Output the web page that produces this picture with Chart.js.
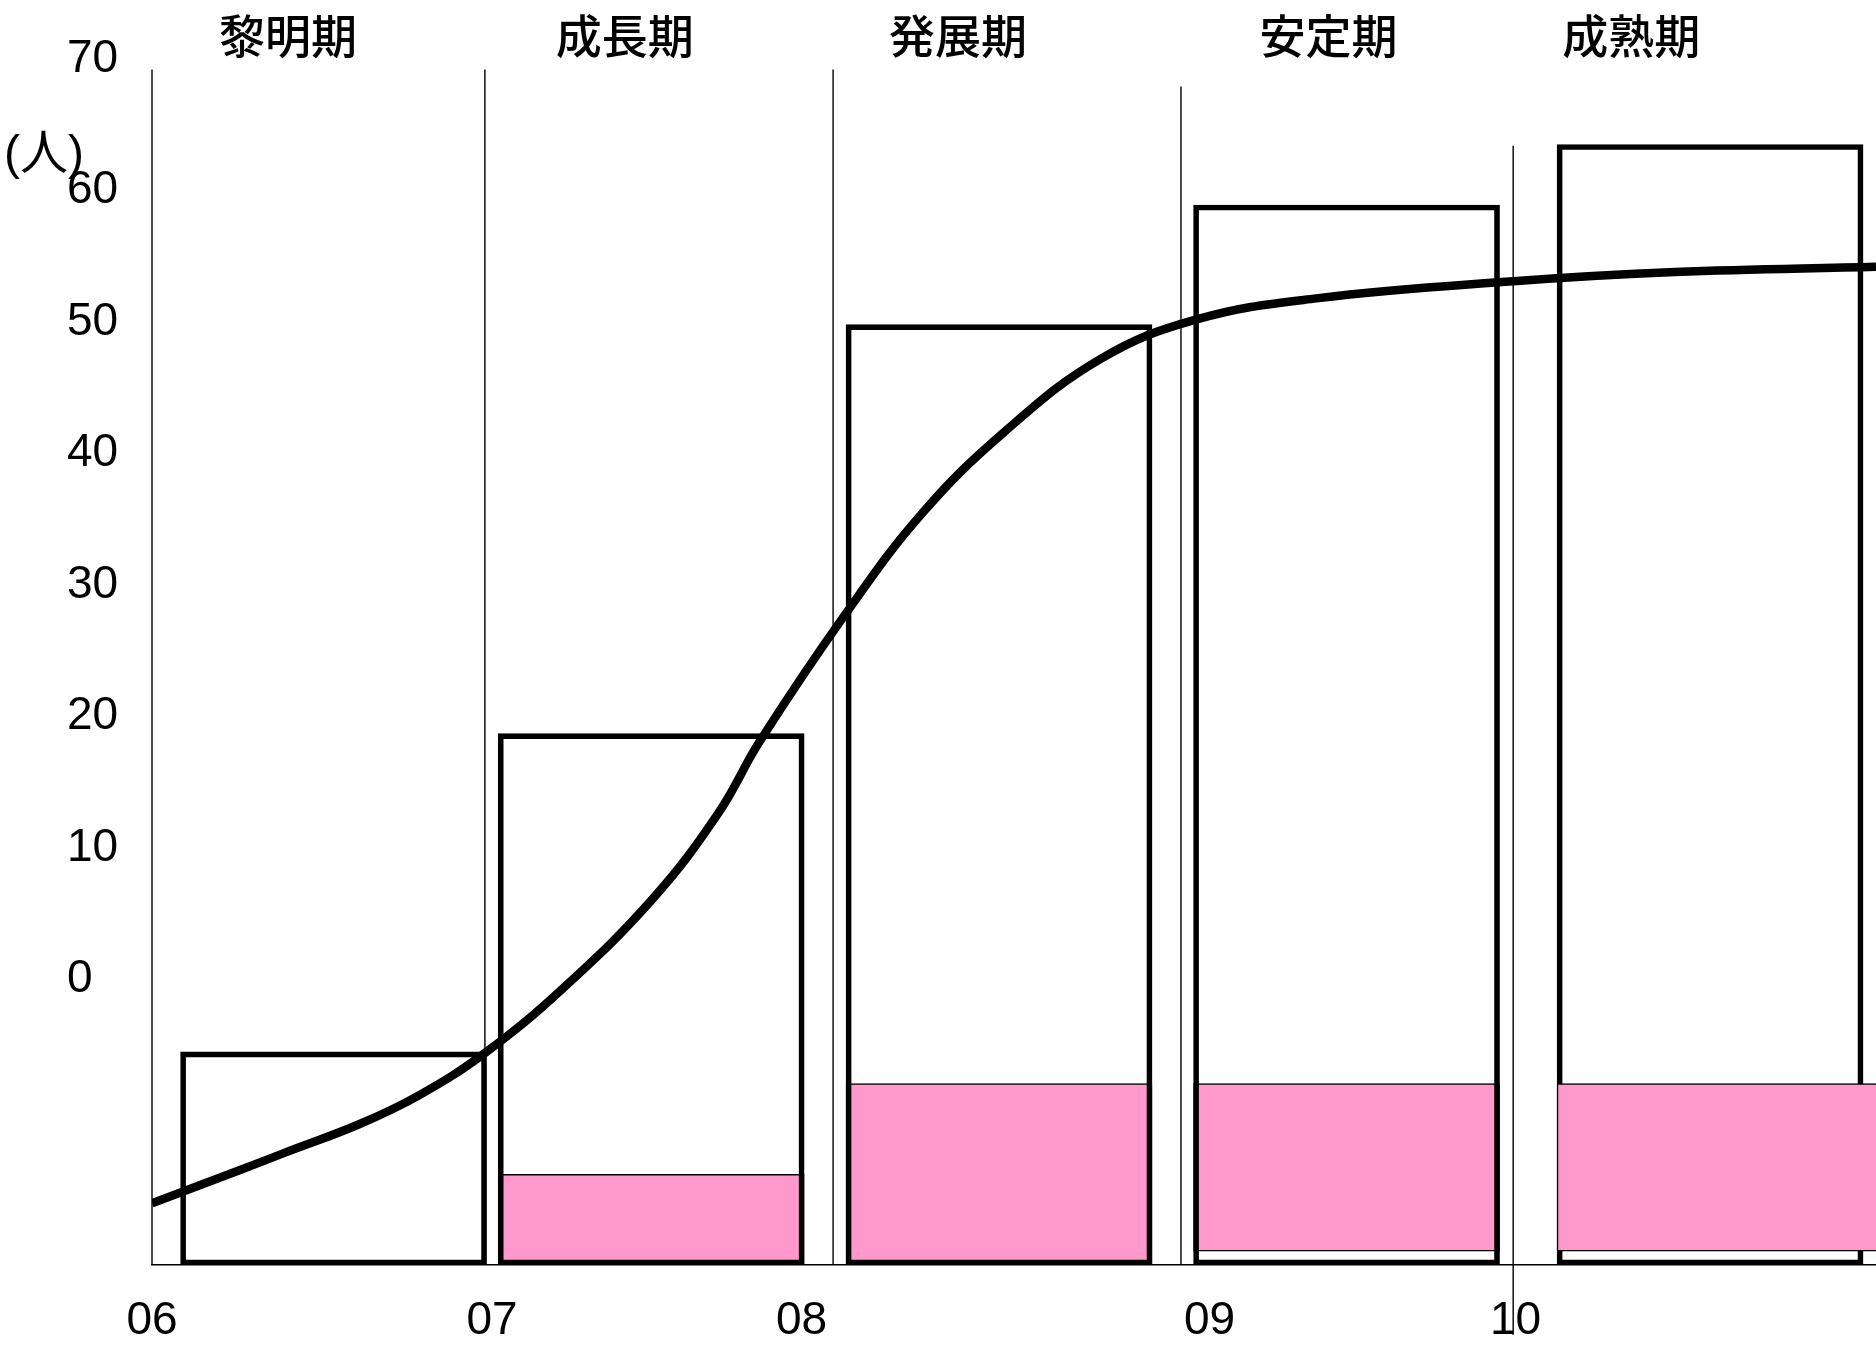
<!DOCTYPE html>
<html>
<head>
<meta charset="utf-8">
<script src="https://cdn.jsdelivr.net/npm/chart.js@4/dist/chart.umd.min.js"></script>
<style>
html,body{margin:0;padding:0;background:#fff;}
#wrap{width:1876px;height:1352px;}
</style>
</head>
<body>
<div id="wrap"><canvas id="c" width="1876" height="1352"></canvas></div>
<script>
// ---- data ----
const phases = ['黎明期', '成長期', '発展期', '安定期', '成熟期'];
const phasePos = [6.40, 7.39, 8.37, 9.46, 10.35];
const yearLabels = ['06', '07', '08', '09', '10'];
const yearPos = [6.0, 7.0, 7.91, 9.11, 10.01];
const yTicks = [0, 10, 20, 30, 40, 50, 60, 70];
const yUnit = '(人)';
const yMin = -21.7, yMax = 70, xMin = 6, xMax = 11.07;

const barX = [6.534, 7.468, 8.491, 9.513, 10.582];
const totalTop = [-5.5, 18.7, 49.8, 58.9, 63.5];
const pinkX = [null, 7.468, 8.491, 9.513, 10.632];
const pinkTop = [null, -14.8, -7.9, -7.9, -7.9];
const pinkBottom = [null, -21.7, -21.7, -20.65, -20.65];

const curveX = [6.0, 6.257, 6.397, 6.609, 6.785, 6.978, 7.207, 7.471, 7.664, 7.787, 8.034, 8.263, 8.509, 8.79, 9.072, 9.424, 10.004, 10.479, 11.07];
const curveY = [-17.0, -14.5, -13.1, -11.0, -8.8, -5.6, -0.7, 6.1, 12.6, 18.1, 27.6, 35.4, 41.7, 47.2, 50.2, 51.8, 53.1, 53.8, 54.2];

const sepX = [6.0, 6.979, 8.003, 9.026, 10.003];
const sepTop = [69.2, 69.2, 69.2, 67.9, 63.4];
const sepBottom = [-21.7, -21.7, -21.7, -21.7, -27.0];

// ---- build ----
const sepData = [];
sepX.forEach((x, i) => {
  sepData.push({x: x, y: sepTop[i]});
  sepData.push({x: x, y: sepBottom[i]});
  sepData.push({x: x, y: null});
});
const pinkMain = [1, 2, 3].map(i => ({x: pinkX[i], y: [pinkBottom[i], pinkTop[i]]}));
const pinkTail = [4].map(i => ({x: pinkX[i], y: [pinkBottom[i], pinkTop[i]]}));

const numFont = {family: '"Liberation Sans", Arial, sans-serif', size: 46};
const cjkFont = {family: '"Noto Sans CJK JP", sans-serif', size: 46, weight: '500'};

const unitLabel = {
  id: 'unitLabel',
  afterDraw(chart) {
    const c = chart.ctx;
    c.save();
    c.font = '48px "Liberation Sans", "Noto Sans CJK JP", sans-serif';
    c.fillStyle = '#000';
    c.textAlign = 'left';
    c.textBaseline = 'middle';
    c.fillText(yUnit, 4, 156);
    c.restore();
  }
};

new Chart(document.getElementById('c'), {
  type: 'bar',
  data: {
    datasets: [
      {type: 'line', label: 'curve', data: curveX.map((x, i) => ({x: x, y: curveY[i]})),
        borderColor: '#000', borderWidth: 8.5, pointRadius: 0, fill: false,
        tension: 0.4, borderCapStyle: 'butt', borderJoinStyle: 'round', order: 0},
      {type: 'bar', label: 'pinkTail', data: pinkTail, backgroundColor: '#FF99CC',
        borderColor: '#000', borderWidth: 1.5, borderSkipped: false, barThickness: 340,
        grouped: false, order: 1},
      {type: 'bar', label: 'total', data: barX.map((x, i) => ({x: x, y: [yMin, totalTop[i]]})),
        backgroundColor: 'rgba(0,0,0,0)', borderColor: '#000', borderWidth: 5,
        borderSkipped: false, barThickness: 306, grouped: false, order: 2},
      {type: 'bar', label: 'pink', data: pinkMain, backgroundColor: '#FF99CC',
        borderColor: '#000', borderWidth: 1.5, borderSkipped: false, barThickness: 306,
        grouped: false, order: 3},
      {type: 'line', label: 'sep', data: sepData, borderColor: '#000', borderWidth: 1.4,
        pointRadius: 0, spanGaps: false, clip: false, order: 4}
    ]
  },
  options: {
    responsive: false,
    animation: false,
    layout: {padding: {left: 67, right: 0, top: 0, bottom: 0}},
    plugins: {legend: {display: false}, tooltip: {enabled: false}},
    scales: {
      x: {
        type: 'linear', position: 'bottom', min: xMin, max: xMax, offset: false,
        afterBuildTicks: ax => { ax.ticks = yearPos.map(v => ({value: v})); },
        afterFit: ax => { ax.height = 87; },
        ticks: {autoSkip: false, maxRotation: 0, padding: 29, color: '#000', font: numFont,
          callback: (v, i) => yearLabels[i]},
        grid: {display: false, drawTicks: false},
        border: {display: true, color: '#000', width: 1.5}
      },
      x2: {
        type: 'linear', position: 'top', min: xMin, max: xMax, offset: false,
        afterBuildTicks: ax => { ax.ticks = phasePos.map(v => ({value: v})); },
        afterFit: ax => { ax.height = 59; },
        ticks: {autoSkip: false, maxRotation: 0, padding: -4, color: '#000', font: cjkFont,
          callback: (v, i) => phases[i]},
        grid: {display: false, drawTicks: false},
        border: {display: false}
      },
      y: {
        type: 'linear', position: 'left', min: yMin, max: yMax,
        afterBuildTicks: ax => { ax.ticks = yTicks.map(v => ({value: v})); },
        afterFit: ax => { ax.width = 85; },
        ticks: {autoSkip: false, crossAlign: 'far', padding: 0, color: '#000', font: numFont},
        grid: {display: false, drawTicks: false},
        border: {display: false}
      }
    }
  },
  plugins: [unitLabel]
});
</script>
</body>
</html>
